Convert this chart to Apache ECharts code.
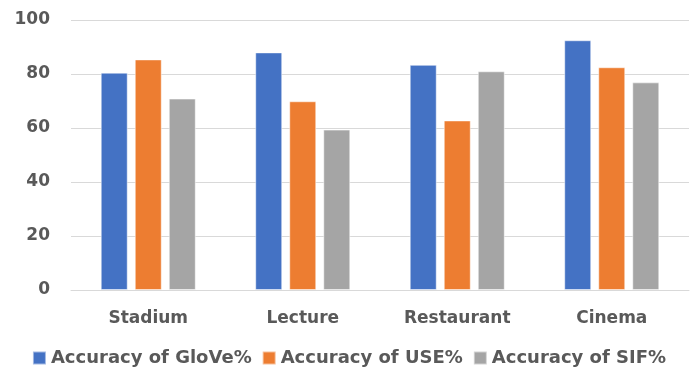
<!DOCTYPE html>
<html>
<head>
<meta charset="utf-8">
<script src="https://cdn.jsdelivr.net/npm/echarts@6/dist/echarts.min.js"></script>
<style>
  html, body { margin: 0; padding: 0; background: #fff; }
  #chart { width: 698px; height: 368px; }
</style>
</head>
<body>
<div id="chart"></div>
<script>
  // data
  var categories = ['Stadium', 'Lecture', 'Restaurant', 'Cinema'];
  var seriesNames = ['Accuracy of GloVe%', 'Accuracy of USE%', 'Accuracy of SIF%'];
  var glove = [80.5, 88.0, 83.4, 92.5];
  var use = [85.4, 69.9, 62.8, 82.5];
  var sif = [70.9, 59.4, 81.0, 76.9];
  var colors = ['#4472C4', '#ED7D31', '#A5A5A5'];

  var font = '"DejaVu Sans", sans-serif';
  var myChart = echarts.init(document.getElementById('chart'));

  function bar(name, data, color) {
    return {
      name: name,
      type: 'bar',
      data: data,
      barWidth: 27,
      barGap: '26%',
      itemStyle: { color: color, borderColor: 'rgba(255,255,255,0.5)', borderWidth: 1 }
    };
  }

  myChart.setOption({
    animation: false,
    color: colors,
    grid: { left: 71, right: 9, top: 20, bottom: 78 },
    legend: {
      top: 344,
      left: 'center',
      itemWidth: 13,
      itemHeight: 13,
      itemGap: 10,
      icon: 'rect',
      textStyle: { fontFamily: font, fontWeight: 'bold', fontSize: 18, color: '#595959' },
      data: seriesNames
    },
    xAxis: {
      type: 'category',
      data: categories,
      axisLine: { lineStyle: { color: '#D9D9D9' } },
      axisTick: { show: false },
      axisLabel: { fontFamily: font, fontWeight: 'bold', fontSize: 17, color: '#595959', margin: 20 }
    },
    yAxis: {
      type: 'value',
      min: 0,
      max: 100,
      interval: 20,
      axisLine: { show: false },
      axisTick: { show: false },
      splitLine: { lineStyle: { color: '#D9D9D9' } },
      axisLabel: { fontFamily: font, fontWeight: 'bold', fontSize: 17, color: '#595959', margin: 21 }
    },
    series: [
      bar(seriesNames[0], glove, colors[0]),
      bar(seriesNames[1], use, colors[1]),
      bar(seriesNames[2], sif, colors[2])
    ]
  });
</script>
</body>
</html>
